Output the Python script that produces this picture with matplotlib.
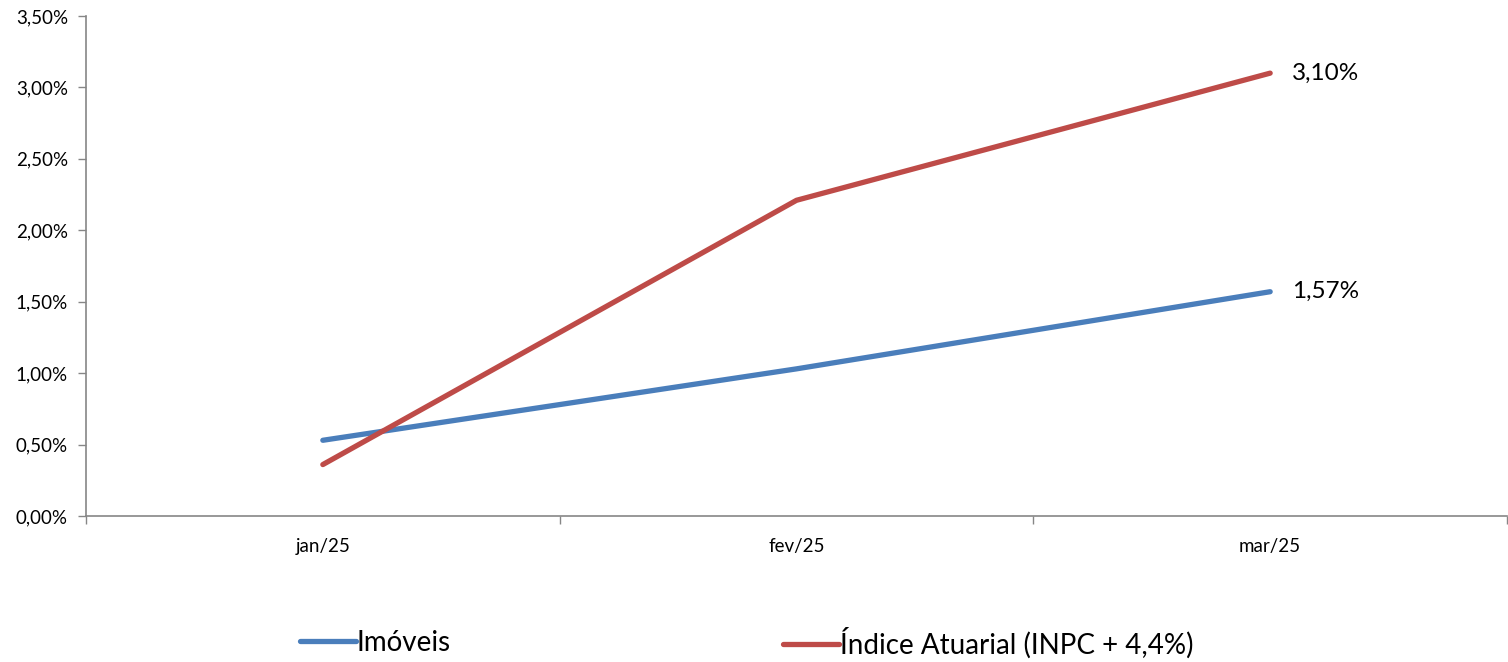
import matplotlib
matplotlib.use("Agg")
import matplotlib.pyplot as plt
from matplotlib.ticker import FixedLocator, FuncFormatter

categories = ["jan/25", "fev/25", "mar/25"]
imoveis = [0.53, 1.03, 1.57]
indice = [0.36, 2.21, 3.10]
series_names = ["Imóveis", "Índice Atuarial (INPC + 4,4%)"]
yticks = [0.0, 0.5, 1.0, 1.5, 2.0, 2.5, 3.0, 3.5]

blue = "#4A7EBB"
red = "#BE4B48"
gray = "#868686"

plt.rcParams['font.family'] = ['Lato', 'DejaVu Sans']

fig = plt.figure(figsize=(15.08, 6.62), dpi=100)
ax = fig.add_axes([86/1508, 146/662, 1421/1508, 500/662])

x = list(range(len(categories)))
l1, = ax.plot(x, imoveis, color=blue, lw=3.8, solid_capstyle='round', solid_joinstyle='round')
l2, = ax.plot(x, indice, color=red, lw=3.8, solid_capstyle='round', solid_joinstyle='round')

ax.set_xlim(-0.5, len(categories) - 0.5)
ax.set_ylim(0, 3.5)
ax.set_yticks(yticks)
ax.yaxis.set_major_formatter(FuncFormatter(lambda v, p: f"{v:.2f}".replace(".", ",") + "%"))
ax.set_xticks(x)
ax.set_xticklabels(categories)
ax.xaxis.set_minor_locator(FixedLocator([i + 0.5 for i in range(-1, len(categories))]))
ax.tick_params(axis='x', which='major', length=0, pad=16, labelsize=13.5)
ax.tick_params(axis='x', which='minor', length=6, color=gray, width=1)
ax.tick_params(axis='y', length=6, color=gray, width=1, labelsize=13.5, pad=7)

for s in ["top", "right"]:
    ax.spines[s].set_visible(False)
for s in ["left", "bottom"]:
    ax.spines[s].set_color(gray)
    ax.spines[s].set_linewidth(1.2)

ax.annotate(f"{indice[-1]:.2f}".replace(".", ",") + "%", (x[-1], indice[-1]),
            xytext=(16, 0), textcoords='offset points', va='center', ha='left', fontsize=17.5)
ax.annotate(f"{imoveis[-1]:.2f}".replace(".", ",") + "%", (x[-1], imoveis[-1]),
            xytext=(16, 0), textcoords='offset points', va='center', ha='left', fontsize=17.5)

for line, name, xpos in [(l1, series_names[0], 300), (l2, series_names[1], 783)]:
    fig.legend([line], [name], loc='center left', bbox_to_anchor=(xpos/1508, 1 - 643/662),
               frameon=False, fontsize=20, handlelength=2.0, handletextpad=0.05,
               borderpad=0, borderaxespad=0)

fig.savefig("out.png", dpi=100)
